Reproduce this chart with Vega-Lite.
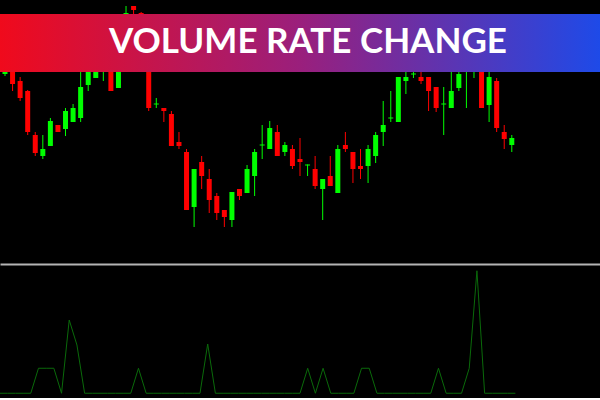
{
  "$schema": "https://vega.github.io/schema/vega-lite/v6.json",
  "background": "#000000",
  "padding": 0,
  "spacing": 0,
  "config": {"view": {"stroke": null}},
  "datasets": {
    "candles": [
      {"i":0,"open":226,"high":245,"low":224,"close":240},
      {"i":1,"open":245,"high":250,"low":209,"close":216},
      {"i":2,"open":219,"high":223,"low":199,"close":202},
      {"i":3,"open":209,"high":210,"low":165,"close":168},
      {"i":4,"open":165,"high":168,"low":144,"close":147},
      {"i":5,"open":144,"high":165,"low":141,"close":151},
      {"i":6,"open":154,"high":182,"low":154,"close":179},
      {"i":7,"open":175,"high":175,"low":168,"close":168},
      {"i":8,"open":171,"high":192,"low":164,"close":189},
      {"i":9,"open":178,"high":196,"low":178,"close":192},
      {"i":10,"open":182,"high":230,"low":178,"close":213},
      {"i":11,"open":215,"high":245,"low":209,"close":240},
      {"i":12,"open":222,"high":245,"low":222,"close":240},
      {"i":13,"open":245,"high":250,"low":219,"close":246},
      {"i":14,"open":250,"high":255,"low":209,"close":209},
      {"i":15,"open":212,"high":250,"low":212,"close":245},
      {"i":16,"open":260,"high":294,"low":258,"close":287},
      {"i":17,"open":294,"high":294,"low":280,"close":290},
      {"i":18,"open":287,"high":288,"low":260,"close":265},
      {"i":19,"open":270,"high":275,"low":189,"close":192},
      {"i":20,"open":195.5,"high":202,"low":192,"close":196.5},
      {"i":21,"open":192,"high":192,"low":178,"close":189},
      {"i":22,"open":186,"high":189,"low":154,"close":154},
      {"i":23,"open":158,"high":168,"low":151,"close":154},
      {"i":24,"open":148,"high":151,"low":90,"close":90},
      {"i":25,"open":93,"high":131,"low":73,"close":131},
      {"i":26,"open":138,"high":144,"low":111,"close":124},
      {"i":27,"open":121,"high":131,"low":87,"close":100},
      {"i":28,"open":104,"high":107,"low":80,"close":87},
      {"i":29,"open":90,"high":90,"low":73,"close":83},
      {"i":30,"open":80,"high":108,"low":73,"close":108},
      {"i":31,"open":111,"high":111,"low":100,"close":104},
      {"i":32,"open":107,"high":135,"low":107,"close":131},
      {"i":33,"open":124,"high":151,"low":104,"close":148},
      {"i":34,"open":154.5,"high":175,"low":141,"close":155.5},
      {"i":35,"open":151,"high":179,"low":151,"close":172},
      {"i":36,"open":168,"high":175,"low":144,"close":144},
      {"i":37,"open":148,"high":158,"low":144,"close":155},
      {"i":38,"open":151,"high":155,"low":131,"close":134},
      {"i":39,"open":141,"high":162,"low":124,"close":138},
      {"i":40,"open":134.5,"high":135.5,"low":124,"close":135.5},
      {"i":41,"open":131,"high":144,"low":111,"close":114},
      {"i":42,"open":111,"high":121,"low":80,"close":121},
      {"i":43,"open":124,"high":144,"low":114,"close":114},
      {"i":44,"open":107,"high":155,"low":107,"close":151},
      {"i":45,"open":155,"high":168,"low":148,"close":151},
      {"i":46,"open":148,"high":148,"low":117,"close":131},
      {"i":47,"open":134,"high":151,"low":121,"close":131},
      {"i":48,"open":134,"high":155,"low":117,"close":151},
      {"i":49,"open":144,"high":168,"low":137,"close":165},
      {"i":50,"open":168,"high":199,"low":154,"close":175},
      {"i":51,"open":181.5,"high":209,"low":178,"close":182.5},
      {"i":52,"open":178,"high":223,"low":178,"close":223},
      {"i":53,"open":219,"high":235,"low":206,"close":223},
      {"i":54,"open":225.5,"high":235,"low":222,"close":226.5},
      {"i":55,"open":223,"high":230,"low":216,"close":219},
      {"i":56,"open":223,"high":223,"low":189,"close":209},
      {"i":57,"open":213,"high":213,"low":188,"close":192},
      {"i":58,"open":195.5,"high":213,"low":165,"close":196.5},
      {"i":59,"open":192,"high":230,"low":192,"close":209},
      {"i":60,"open":212,"high":232,"low":209,"close":226},
      {"i":61,"open":240,"high":265,"low":192,"close":260},
      {"i":62,"open":235,"high":255,"low":222,"close":250},
      {"i":63,"open":240,"high":245,"low":192,"close":192},
      {"i":64,"open":195,"high":230,"low":178,"close":223},
      {"i":65,"open":219,"high":222,"low":168,"close":172},
      {"i":66,"open":168,"high":175,"low":151,"close":161},
      {"i":67,"open":155,"high":165,"low":148,"close":162}
    ],
    "vrc": [
      {"i":0,"v":0},{"i":1,"v":0},{"i":2,"v":0},{"i":3,"v":0},{"i":4,"v":0},
      {"i":5,"v":1},{"i":6,"v":1},{"i":7,"v":1},{"i":8,"v":0},{"i":9,"v":2.93},
      {"i":10,"v":1.93},{"i":11,"v":0},{"i":12,"v":0},{"i":13,"v":0},{"i":14,"v":0},
      {"i":15,"v":0},{"i":16,"v":0},{"i":17,"v":0},{"i":18,"v":1},{"i":19,"v":0},
      {"i":20,"v":0},{"i":21,"v":0},{"i":22,"v":0},{"i":23,"v":0},{"i":24,"v":0},
      {"i":25,"v":0},{"i":26,"v":0},{"i":27,"v":1.97},{"i":28,"v":0},{"i":29,"v":0},
      {"i":30,"v":0},{"i":31,"v":0},{"i":32,"v":0},{"i":33,"v":0},{"i":34,"v":0},
      {"i":35,"v":0},{"i":36,"v":0},{"i":37,"v":0},{"i":38,"v":0},{"i":39,"v":0},
      {"i":40,"v":1},{"i":41,"v":0},{"i":42,"v":1},{"i":43,"v":0},{"i":44,"v":0},
      {"i":45,"v":0},{"i":46,"v":0},{"i":47,"v":1},{"i":48,"v":1},{"i":49,"v":0},
      {"i":50,"v":0},{"i":51,"v":0},{"i":52,"v":0},{"i":53,"v":0},{"i":54,"v":0},
      {"i":55,"v":0},{"i":56,"v":0},{"i":57,"v":1},{"i":58,"v":0},{"i":59,"v":0},
      {"i":60,"v":0},{"i":61,"v":1},{"i":62,"v":4.9},{"i":63,"v":0},{"i":64,"v":0},
      {"i":65,"v":0},{"i":66,"v":0},{"i":67,"v":0}
    ]
  },
  "vconcat": [
    {
      "width": 600,
      "height": 264,
      "data": {"name": "candles"},
      "encoding": {
        "x": {"field": "i", "type": "quantitative", "scale": {"domain": [0, 78], "nice": false, "zero": false},
              "axis": {"orient": "bottom", "labels": false, "ticks": false, "grid": false, "title": null, "domainColor": "#b4b4b4", "domainWidth": 2, "minExtent": 0, "maxExtent": 0, "offset": 0}},
        "color": {"condition": {"test": "datum.close >= datum.open", "value": "#00ff00"}, "value": "#ff0000"}
      },
      "layer": [
        {
          "mark": {"type": "rule", "strokeWidth": 1, "clip": true},
          "encoding": {
            "y": {"field": "low", "type": "quantitative", "scale": {"domain": [36, 300], "nice": false, "zero": false}, "axis": null},
            "y2": {"field": "high"}
          }
        },
        {
          "mark": {"type": "bar", "size": 5, "clip": true},
          "encoding": {
            "y": {"field": "open", "type": "quantitative"},
            "y2": {"field": "close"}
          }
        },
        {
          "data": {"values": [{"title": "VOLUME RATE CHANGE"}]},
          "mark": {"type": "rect", "clip": true, "color": {"gradient": "linear", "x1": 0, "x2": 1, "y1": 0, "y2": 0,
            "stops": [{"offset": 0, "color": "#f00a1c"}, {"offset": 0.5, "color": "#9a1f7c"}, {"offset": 1, "color": "#1e4ae8"}]}},
          "encoding": {
            "x": null,
            "color": null,
            "y": {"datum": 286, "type": "quantitative"},
            "y2": {"datum": 228}
          }
        },
        {
          "data": {"values": [{"title": "VOLUME RATE CHANGE"}]},
          "mark": {"type": "text", "font": "Lato", "fontWeight": "bold", "fontSize": 35, "color": "#ffffff", "baseline": "alphabetic", "align": "center", "dx": 8},
          "encoding": {
            "x": null,
            "color": null,
            "text": {"field": "title"},
            "y": {"datum": 246.7, "type": "quantitative"}
          }
        }
      ]
    },
    {
      "width": 600,
      "height": 134,
      "data": {"name": "vrc"},
      "mark": {"type": "line", "color": "#0a6a0a", "strokeWidth": 1, "clip": true},
      "encoding": {
        "x": {"field": "i", "type": "quantitative", "scale": {"domain": [0, 78], "nice": false, "zero": false}, "axis": null},
        "y": {"field": "v", "type": "quantitative", "scale": {"domain": [-0.19, 5.17], "nice": false, "zero": false}, "axis": null}
      }
    }
  ]
}
